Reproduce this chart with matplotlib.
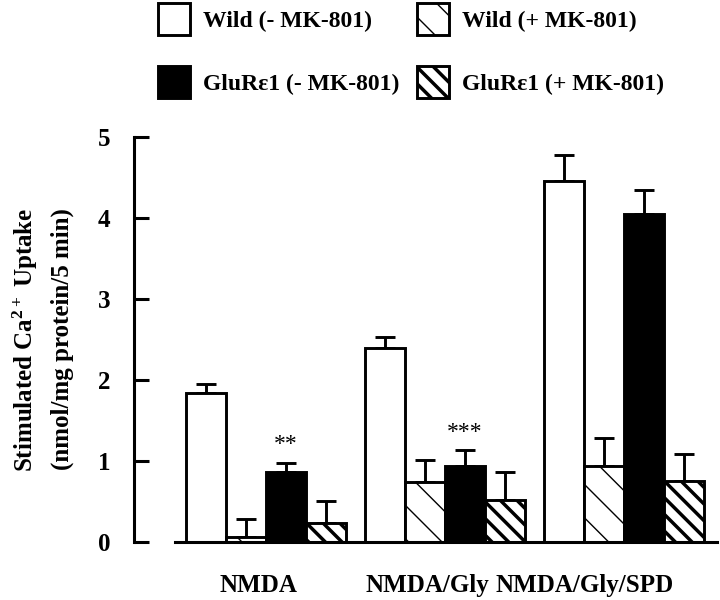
import matplotlib
matplotlib.use("Agg")
import matplotlib.pyplot as plt
import numpy as np

# ---- data ----
groups = ["NMDA", "NMDA/Gly", "NMDA/Gly/SPD"]
series = ["Wild (- MK-801)", "Wild (+ MK-801)", "GluR\u03b51 (- MK-801)", "GluR\u03b51 (+ MK-801)"]
wild_minus = [1.84, 2.39, 4.46]
wild_plus = [0.06, 0.74, 0.94]
glur_minus = [0.87, 0.94, 4.05]
glur_plus = [0.24, 0.52, 0.75]
wild_minus_err = [0.11, 0.14, 0.32]
wild_plus_err = [0.22, 0.27, 0.35]
glur_minus_err = [0.11, 0.19, 0.29]
glur_plus_err = [0.27, 0.34, 0.34]
stars = ["**", "***", ""]
yticks = [0, 1, 2, 3, 4, 5]

# ---- style ----
plt.rcParams['font.family'] = ['Liberation Serif', 'DejaVu Serif']
plt.rcParams['font.weight'] = 'bold'
plt.rcParams['mathtext.fontset'] = 'custom'
plt.rcParams['mathtext.rm'] = 'Liberation Serif:bold'
plt.rcParams['mathtext.it'] = 'Liberation Serif:bold'
plt.rcParams['mathtext.bf'] = 'Liberation Serif:bold'

fig = plt.figure(figsize=(7.2, 6), dpi=100)
ax = fig.add_axes([175/720, 58/600, 542/720, 405/600])

x = np.arange(len(groups))
w = 0.2235
vals = [wild_minus, wild_plus, glur_minus, glur_plus]
errs = [wild_minus_err, wild_plus_err, glur_minus_err, glur_plus_err]
faces = ['white', 'white', 'black', 'white']
hatches = [None, '\\', None, '\\\\']
hlw = [1.0, 1.0, 1.0, 2.5]
offs = [-1.5, -0.5, 0.5, 1.5]

handles = []
for v, e, fc, h, lw, o, lab in zip(vals, errs, faces, hatches, hlw, offs, series):
    with plt.rc_context({'hatch.linewidth': lw}):
        bc = ax.bar(x + o*w, v, width=w, color=fc, edgecolor='black', linewidth=2.1,
                    hatch=h, label=lab, zorder=2)
        for p in bc:
            if hasattr(p, 'set_hatch_linewidth'):
                p.set_hatch_linewidth(lw)
    ax.errorbar(x + o*w, v, yerr=[np.zeros(len(v)), e], fmt='none', ecolor='black',
                elinewidth=2.1, capsize=7.5, capthick=2.1, zorder=1)
    handles.append(bc)

# significance stars above GluR (- MK-801)
for xi, v, e, s in zip(x, glur_minus, glur_minus_err, stars):
    if s:
        ax.annotate(s, (xi + 0.5*w, v + e), xytext=(0, 13), textcoords='offset points',
                    ha='center', va='center', fontsize=17, fontweight='normal')

ax.set_xlim(-0.508, 2.52)
ax.set_ylim(0, 5)
for s in ['top', 'right']:
    ax.spines[s].set_visible(False)
ax.spines['left'].set_position(('outward', 29.5))
ax.spines['left'].set_bounds(0, 5)
ax.spines['left'].set_linewidth(2.2)
ax.spines['bottom'].set_linewidth(2.2)
ax.set_yticks(yticks)
ax.set_yticklabels([str(t) for t in yticks], fontsize=18, fontweight='bold')
ax.tick_params(axis='y', direction='in', length=11, width=2.2, pad=17)
label_shift = [-0.04, -0.10, -0.22]
ax.set_xticks(x + np.array(label_shift))
ax.set_xticklabels(groups, fontsize=18, fontweight='bold')
ax.tick_params(axis='x', length=0, pad=23)

fig.text(42.5/720, 1 - 339.5/600,
         "Stimulated Ca$^{2+}$ Uptake\n(nmol/mg protein/5 min)",
         rotation=90, ha='center', va='center', multialignment='center',
         fontsize=18, fontweight='bold', linespacing=1.55)

order = [0, 2, 1, 3]
leg = fig.legend([handles[i] for i in order], [series[i] for i in order], ncol=2,
                 loc='upper left', bbox_to_anchor=(158/720, 0.995), frameon=False,
                 handlelength=1.35, handleheight=1.705, handletextpad=0.55,
                 labelspacing=1.33, columnspacing=0.76, borderpad=0, borderaxespad=0,
                 prop={'family': 'Liberation Serif', 'weight': 'bold', 'size': 17})
lh = getattr(leg, 'legend_handles', None) or getattr(leg, 'legendHandles', [])
for hnd, i in zip(lh, order):
    if hasattr(hnd, 'set_hatch_linewidth'):
        hnd.set_hatch_linewidth(hlw[i])

fig.savefig("out.png", dpi=100)
